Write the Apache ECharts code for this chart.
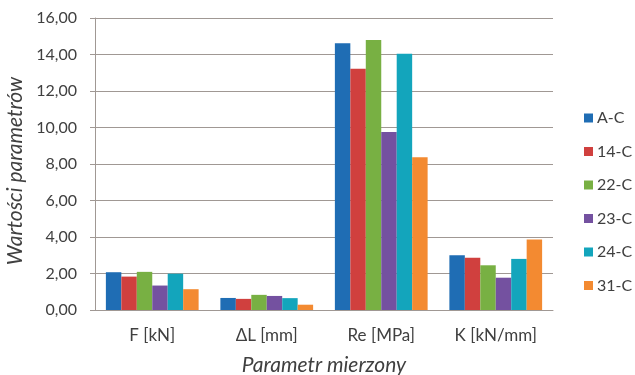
<!DOCTYPE html>
<html><head><meta charset="utf-8">
<script src="https://cdn.jsdelivr.net/npm/echarts@6/dist/echarts.min.js"></script>
<style>html,body{margin:0;padding:0;background:#fff}#c{width:635px;height:375px}</style>
</head><body><div id="c"></div>
<script>
const categories = ['F [kN]', 'ΔL [mm]', 'Re [MPa]', 'K [kN/mm]'];
const seriesNames = ['A-C', '14-C', '22-C', '23-C', '24-C', '31-C'];
const valuesAC  = [2.07, 0.66, 14.62, 3.00];
const values14C = [1.83, 0.61, 13.22, 2.86];
const values22C = [2.09, 0.83, 14.80, 2.45];
const values23C = [1.34, 0.77, 9.76, 1.77];
const values24C = [1.99, 0.65, 14.04, 2.80];
const values31C = [1.14, 0.29, 8.37, 3.86];
const yTicks = [0, 2, 4, 6, 8, 10, 12, 14, 16];
const colors = ['#1f6db4', '#d0403e', '#78b043', '#7451a0', '#13a5bc', '#f38a31'];
const allValues = [valuesAC, values14C, values22C, values23C, values24C, values31C];
const FONT = 'Lato';
const chart = echarts.init(document.getElementById('c'), null, {renderer: 'canvas'});
chart.setOption({
  animation: false,
  textStyle: {fontFamily: FONT},
  grid: {left: 95, right: 82, top: 18, bottom: 65, containLabel: false, outerBoundsMode: 'none'},
  legend: {
    orient: 'vertical', left: 579, top: 105,
    itemWidth: 9, itemHeight: 9, itemGap: 17.5,
    icon: 'rect',
    textStyle: {fontFamily: FONT, fontSize: 16, color: '#404040', padding: [0,0,0,-1]},
    data: seriesNames
  },
  xAxis: {
    type: 'category', data: categories,
    axisLine: {lineStyle: {color: '#a09894', width: 1}},
    axisTick: {show: false},
    axisLabel: {fontFamily: FONT, fontSize: 17, color: '#404040', margin: 17},
    name: 'Parametr mierzony', nameLocation: 'middle', nameGap: 45,
    nameTextStyle: {fontFamily: FONT, fontSize: 21, fontStyle: 'italic', color: '#404040'}
  },
  yAxis: {
    type: 'value', min: yTicks[0], max: yTicks[yTicks.length-1], interval: 2,
    axisLine: {show: true, lineStyle: {color: '#a09894', width: 1}},
    axisTick: {show: true, length: 5, lineStyle: {color: '#a09894'}},
    splitLine: {lineStyle: {color: '#a09894', width: 1}},
    axisLabel: {fontFamily: FONT, fontSize: 16, color: '#404040', margin: 18,
      formatter: v => v.toFixed(2).replace('.', ',')},
    name: 'Wartości parametrów', nameLocation: 'middle', nameGap: 64,
    nameTextStyle: {fontFamily: FONT, fontSize: 21, fontStyle: 'italic', color: '#404040', padding: [0, 14, 0, 0]}
  },
  series: seriesNames.map((n, i) => ({
    name: n, type: 'bar', data: allValues[i],
    barGap: '0%', barCategoryGap: '19%',
    itemStyle: {color: colors[i]}
  }))
});
</script></body></html>
